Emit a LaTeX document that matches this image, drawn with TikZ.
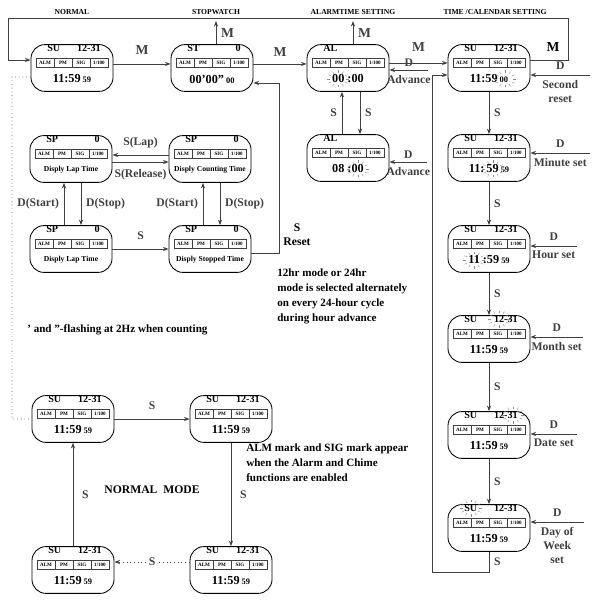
\documentclass[tikz,border=0pt]{standalone}
\usepackage{fontspec}
\setmainfont{Liberation Serif}
\usetikzlibrary{positioning, arrows.meta, calc}

% one display: name, x, y, left top, right top, main line
\newcommand{\lcd}[6]{%
  \node[lcdbox] (#1) at (#2,#3) {};
  \node[lcdtop, anchor=west] (#1l) at (#2-25,#3-20) {#4};
  \node[lcdtop, anchor=east] (#1r) at (#2+29,#3-20) {#5};
  \node[segbox] (#1a) at (#2-27,#3-5) {ALM};
  \node[segbox] (#1b) at (#2-9,#3-5) {PM};
  \node[segbox] (#1c) at (#2+9,#3-5) {SIG};
  \node[segbox] (#1d) at (#2+27,#3-5) {1/100};
  \node[lcdtext] (#1t) at (#2,#3+11) {#6};
}
\newcommand{\clk}[2]{#1\,{\fontsize{6}{7}\selectfont #2}}
\newcommand{\msg}[1]{{\fontsize{5.4}{6}\selectfont #1}}
\newcommand{\flash}[2]{%
  \foreach \a in {0,30,...,330}
    \draw[flashray, shift={(#1,#2)}] (\a:8 and 6) -- (\a:11 and 8.5);
}

\begin{document}
\bfseries
\begin{tikzpicture}[x=0.025cm, y=-0.025cm,
    lcdbox/.style={draw, rounded corners=0.35cm, minimum width=2.05cm, minimum height=1.17cm, line width=0.6pt},
    lcdtop/.style={font=\fontsize{7.2}{8}\selectfont, inner sep=0},
    segbox/.style={draw=black!75, line width=0.4pt, inner sep=0, minimum width=0.44cm, minimum height=0.22cm, font=\fontsize{3.6}{4}\selectfont},
    lcdtext/.style={font=\fontsize{8.7}{10}\selectfont, inner sep=0},
    arr/.style={-{Stealth[length=4pt, width=3pt]}, line width=0.6pt, black!75},
    dotline/.style={dotted, line width=0.6pt, black!60},
    flashray/.style={black!45, line width=0.3pt},
    mlbl/.style={font=\fontsize{9.7}{11}\selectfont},
    slbl/.style={font=\fontsize{8.3}{10}\selectfont},
    title/.style={font=\fontsize{5.4}{6}\selectfont},
    note/.style={font=\fontsize{7.9}{10.6}\selectfont, align=left, anchor=north west, inner sep=0}
]
\useasboundingbox (0,0) rectangle (600,603);

% mode titles
\node[title] (tNormal) at (72,12) {NORMAL};
\node[title] (tStop) at (216,12) {STOPWATCH};
\node[title] (tAlarm) at (353,12) {ALARMTIME SETTING};
\node[title] (tTime) at (495,12) {TIME /CALENDAR SETTING};

% top row
\lcd{nA}{72}{68}{SU}{12-31}{\clk{11:59}{59}}
\lcd{sw}{212}{68}{ST}{0}{\clk{00'00''}{00}}
\lcd{alA}{348}{68}{AL}{}{00 :00}
\lcd{tcA}{489}{68}{SU}{12-31}{\clk{11:59}{00}}
\lcd{alB}{348}{158}{AL}{}{08 :00}

% stopwatch states
\lcd{spA}{71}{159}{SP}{0}{\msg{Disply Lap Time}}
\lcd{spB}{210}{159}{SP}{0}{\msg{Disply Counting Time}}
\lcd{spC}{71}{249}{SP}{0}{\msg{Disply Lap Time}}
\lcd{spD}{210}{249}{SP}{0}{\msg{Disply Stopped Time}}

% time / calendar setting column
\lcd{tcB}{489}{158}{SU}{12-31}{\clk{11:\,59}{59}}
\lcd{tcC}{489}{249}{SU}{12-31}{\clk{11 :59}{59}}
\lcd{tcD}{489}{339}{SU}{12-31}{\clk{11:59}{59}}
\lcd{tcE}{489}{435}{SU}{12-31}{\clk{11:59}{59}}
\lcd{tcF}{489}{528}{SU}{12-31}{\clk{11:59}{59}}

% normal mode
\lcd{nmA}{73}{419}{SU}{12-31}{\clk{11:59}{59}}
\lcd{nmB}{231}{419}{SU}{12-31}{\clk{11:59}{59}}
\lcd{nmC}{73}{570}{SU}{12-31}{\clk{11:59}{59}}
\lcd{nmD}{231}{570}{SU}{12-31}{\clk{11:59}{59}}

% flashing digits
\flash{338}{79}
\flash{358}{169}
\flash{505}{79}
\flash{493}{169}
\flash{474}{260}
\flash{499}{319}
\flash{513}{415}
\flash{471}{508}

% mode change with M
\coordinate (tl) at (8,18);
\coordinate (tr) at (568,18);
\coordinate (swtop) at (216,21);
\coordinate (altop) at (353,21);
\draw[arr] ([yshift=1mm]nA.east) -- ([yshift=1mm]sw.west) node[mlbl, midway, above=1mm] (mA) {M};
\draw[arr] ([yshift=1mm]sw.east) -- ([yshift=1mm]alA.west) node[mlbl, midway, above=0.5mm] (mB) {M};
\draw[arr] ([yshift=1.25mm]alA.east) -- ([yshift=1.25mm]tcA.west) node[mlbl, midway, above=1.5mm] (mC) {M};
\draw[arr] ([yshift=2mm]tcA.east) -| (tr) -- (tl) |- ([yshift=2mm]nA.west);
\node[mlbl] (mD) at (553,47) {M};
\draw[arr] (sw.north -| swtop) -- (swtop) node[mlbl, midway, right] (mE) {M};
\draw[arr] (alA.north -| altop) -- (altop) node[mlbl, midway, right] (mF) {M};
\coordinate (dl) at (12,77);
\draw[dotline] ([yshift=-2.25mm]nA.west) -- (dl) |- (nmA.west);

% stopwatch
\draw[arr] ([yshift=1mm]spB.west) -- ([yshift=1mm]spA.east) node[slbl, midway, above=0.5mm] (lap) {S(Lap)};
\draw[arr] ([yshift=-0.75mm]spA.east) -- ([yshift=-0.75mm]spB.west) node[slbl, midway, below=0.5mm] (rel) {S(Release)};
\draw[arr] ([xshift=-1.75mm]spC.north) -- ([xshift=-1.75mm]spA.south) node[slbl, midway, left] (stA) {D(Start)};
\draw[arr] ([xshift=2.5mm]spA.south) -- ([xshift=2.5mm]spC.north) node[slbl, midway, right] (spA2) {D(Stop)};
\draw[arr] ([xshift=-1.75mm]spD.north) -- ([xshift=-1.75mm]spB.south) node[slbl, midway, left] (stB) {D(Start)};
\draw[arr] ([xshift=2.5mm]spB.south) -- ([xshift=2.5mm]spD.north) node[slbl, midway, right] (spB2) {D(Stop)};
\draw[arr] (spC.east) -- (spD.west) node[slbl, midway, above=1mm] (sCD) {S};
\coordinate (rsttop) at (279,83);
\draw[arr] ([yshift=-1mm]spD.east) -| (rsttop) -- (sw.east |- rsttop);
\node[slbl, align=center] (rst) at (297,235) {S\\Reset};

% alarm setting
\draw[arr] ([xshift=-1.5mm]alB.north) -- ([xshift=-1.5mm]alA.south) node[slbl, midway, left] (sAL1) {S};
\draw[arr] ([xshift=3mm]alA.south) -- ([xshift=3mm]alB.north) node[slbl, midway, right] (sAL2) {S};
\coordinate (aA) at (428,70);
\coordinate (aB) at (427,162);
\draw[arr] (aA) -- (alA.east |- aA) node[slbl, midway, above=-1pt] (dAL1) {D} node[slbl, midway, below] (adv1) {Advance};
\draw[arr] (aB) -- (alB.east |- aB) node[slbl, midway, above=-1pt] (dAL2) {D} node[slbl, midway, below] (adv2) {Advance};

% time / calendar setting
\draw[arr] (tcA.south) -- (tcB.north) node[slbl, midway, right] (s1) {S};
\draw[arr] (tcB.south) -- (tcC.north) node[slbl, midway, right] (s2) {S};
\draw[arr] (tcC.south) -- (tcD.north) node[slbl, midway, right] (s3) {S};
\draw[arr] (tcD.south) -- (tcE.north) node[slbl, midway, right] (s4) {S};
\draw[arr] (tcE.south) -- (tcF.north) node[slbl, midway, right] (s5) {S};
\coordinate (bl) at (432,572);
\draw[arr] (tcF.south) -- (tcF.south |- bl) node[slbl, midway, right] (s6) {S} -- (bl) |- ([yshift=-1.75mm]tcA.west);
\coordinate (dA) at (590,75);
\coordinate (dB) at (590,153);
\coordinate (dC) at (577,246);
\coordinate (dD) at (583,337);
\coordinate (dE) at (577,434);
\coordinate (dF) at (584,522);
\draw[arr] (dA) -- (tcA.east |- dA) node[slbl, midway, above] (dA1) {D} node[slbl, midway, below, align=center] (dA2) {Second\\reset};
\draw[arr] (dB) -- (tcB.east |- dB) node[slbl, midway, above] (dB1) {D} node[slbl, midway, below] (dB2) {Minute set};
\draw[arr] (dC) -- (tcC.east |- dC) node[slbl, midway, above] (dC1) {D} node[slbl, midway, below] (dC2) {Hour set};
\draw[arr] (dD) -- (tcD.east |- dD) node[slbl, midway, above] (dD1) {D} node[slbl, midway, below] (dD2) {Month set};
\draw[arr] (dE) -- (tcE.east |- dE) node[slbl, midway, above] (dE1) {D} node[slbl, midway, below] (dE2) {Date set};
\draw[arr] (dF) -- (tcF.east |- dF) node[slbl, midway, above] (dF1) {D} node[slbl, midway, below, align=center] (dF2) {Day of\\Week\\set};

% normal mode cycle
\draw[arr] (nmA.east) -- (nmB.west) node[slbl, midway, above=1mm] (n1) {S};
\draw[arr] (nmB.south) -- (nmD.north) node[slbl, midway, right=1mm] (n2) {S};
\draw[arr, dotted] ([yshift=2mm]nmD.west) -- ([yshift=2mm]nmC.east) node[slbl, midway, fill=white, inner sep=1pt] (n3) {S};
\draw[arr] (nmC.north) -- (nmA.south) node[slbl, midway, right=1mm] (n4) {S};
\node[slbl] (nmode) at (152,490) {NORMAL\ \ MODE};

% notes
\node[note] (hrnote) at (277,269) {12hr mode or 24hr\\mode is selected alternately\\on every 24-hour cycle\\during hour advance};
\node[note, anchor=west] (flnote) at (27,330) {' and ''-flashing at 2Hz when counting};
\node[note] (almnote) at (246,444) {ALM mark and SIG mark appear\\when the Alarm and Chime\\functions are enabled};
\end{tikzpicture}
\end{document}
